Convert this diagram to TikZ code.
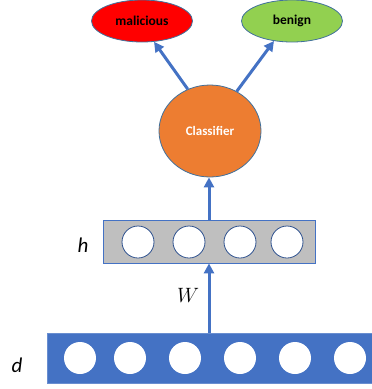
\documentclass[tikz,border=0pt]{standalone}
\usepackage{fontspec}
\setmainfont{Carlito}
\usetikzlibrary{arrows.meta,shapes.geometric}
\definecolor{accblue}{HTML}{4472C4}
\definecolor{edgeblue}{HTML}{41719C}
\definecolor{darkblue}{HTML}{2F528F}
\definecolor{accorange}{HTML}{ED7D31}
\definecolor{accgreen}{HTML}{92D050}
\definecolor{boxgray}{HTML}{BFBFBF}
\tikzset{
  outcome/.style={ellipse, draw=edgeblue, line width=0.8pt, minimum width=101pt,
    minimum height=42pt, inner sep=0pt, font=\fontsize{13.5}{15}\selectfont\bfseries},
  unit/.style={circle, fill=white, minimum size=32pt, inner sep=0pt},
  flow/.style={draw=accblue, line width=3pt, -{Triangle[length=10pt,width=10pt]}},
  varlabel/.style={font=\fontsize{21}{24}\selectfont\itshape}
}
\begin{document}
\begin{tikzpicture}[x=1pt,y=-1pt]
\useasboundingbox (0,0) rectangle (372,389);
\clip (0,0) rectangle (372,389);

% output classes
\node[outcome, fill=red] (mal) at (142,21) {malicious};
\node[outcome, fill=accgreen] (ben) at (292,21) {benign};

% classifier
\node[ellipse, draw=edgeblue, line width=0.8pt, fill=accorange, minimum width=102pt,
  minimum height=92pt, inner sep=0pt, text=white,
  font=\fontsize{13}{15}\selectfont\bfseries] (cls) at (210,131) {Classifier};

% hidden layer h
\node[rectangle, draw=accblue, line width=0.8pt, fill=boxgray, minimum width=212pt,
  minimum height=43pt, inner sep=0pt] (hbox) at (209,241.5) {};
\foreach \x [count=\i] in {138,189,240,287}
  \node[unit, draw=darkblue, line width=0.8pt] (h\i) at (\x,242) {};

% input layer d
\node[rectangle, draw=accblue!80!white, line width=0.8pt, fill=accblue, minimum width=353pt,
  minimum height=50pt, inner sep=0pt] (dbox) at (223.5,358) {};
\foreach \x [count=\i] in {80,130,185,240,295,350}
  \node[unit] (d\i) at (\x,358) {};

% labels
\node[varlabel] (hl) at (83,245) {h};
\node[varlabel] (dl) at (17,365) {d};
\node[font=\fontsize{21}{24}\selectfont] (wl) at (188,295) {$W$};

% connections
\draw[flow] (dbox.north -| hbox.south) -- (hbox.south);
\draw[flow] (hbox.north) -- (hbox.north |- cls.south);
\draw[flow] (cls.118) -- (mal.-60);
\draw[flow] (cls.56) -- (ben.-132);
\end{tikzpicture}
\end{document}
